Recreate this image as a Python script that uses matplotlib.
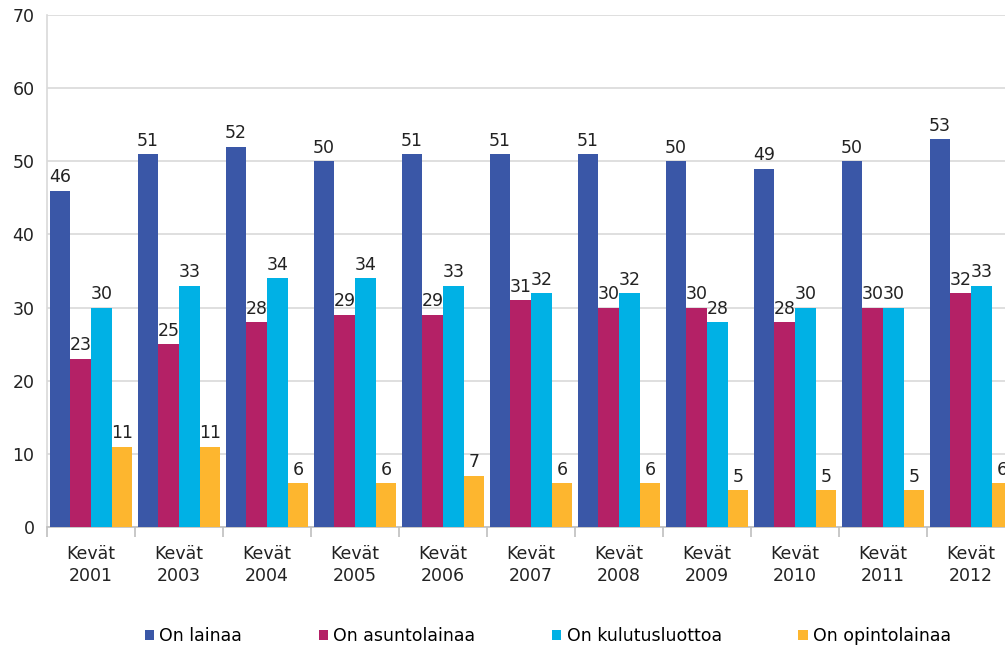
import matplotlib.pyplot as plt
import numpy as np

periods = ['Kevät\n2001', 'Kevät\n2003', 'Kevät\n2004', 'Kevät\n2005', 'Kevät\n2006',
           'Kevät\n2007', 'Kevät\n2008', 'Kevät\n2009', 'Kevät\n2010', 'Kevät\n2011',
           'Kevät\n2012']
on_lainaa = [46, 51, 52, 50, 51, 51, 51, 50, 49, 50, 53]
on_asuntolainaa = [23, 25, 28, 29, 29, 31, 30, 30, 28, 30, 32]
on_kulutusluottoa = [30, 33, 34, 34, 33, 32, 32, 28, 30, 30, 33]
on_opintolainaa = [11, 11, 6, 6, 7, 6, 6, 5, 5, 5, 6]

series = [
    ('On lainaa', on_lainaa, '#3A57A7'),
    ('On asuntolainaa', on_asuntolainaa, '#B42166'),
    ('On kulutusluottoa', on_kulutusluottoa, '#00B1E5'),
    ('On opintolainaa', on_opintolainaa, '#FDB62F'),
]

fig = plt.figure(figsize=(10.05, 6.52), dpi=100)
# plot area runs past the right edge of the image on purpose
ax = fig.add_axes([47 / 1005, 125 / 652, 968 / 1005, 512 / 652])

x = np.arange(len(periods)) + 0.5
w = 0.235
for k, (name, vals, col) in enumerate(series):
    pos = x + (k - 1.5) * w
    ax.bar(pos, vals, width=w, color=col, label=name, zorder=3)
    for px, v in zip(pos, vals):
        ax.text(px, v + 0.6, str(v), ha='center', va='bottom', fontsize=12.5,
                color='#222222', zorder=4)

ax.set_xlim(0, len(periods))
ax.set_ylim(0, 70)
ax.set_yticks(range(0, 71, 10))
ax.yaxis.grid(True, color='#D9D9D9', linewidth=1.2, zorder=0)
ax.tick_params(axis='y', length=0, labelsize=12.5, pad=9, labelcolor='#222222')

ax.set_xticks(x)
ax.set_xticklabels(periods, fontsize=12.5, color='#222222', linespacing=1.25)
ax.set_xticks(np.arange(len(periods) + 1), minor=True)
ax.tick_params(axis='x', which='major', length=0, pad=13)
ax.tick_params(axis='x', which='minor', length=7, color='#BFBFBF', width=1.2)

for s in ['top', 'right']:
    ax.spines[s].set_visible(False)
ax.spines['left'].set_color('#D9D9D9')
ax.spines['bottom'].set_color('#BFBFBF')
ax.spines['left'].set_linewidth(1.2)
ax.spines['bottom'].set_linewidth(1.2)

fig.legend(loc='center', bbox_to_anchor=(0.545, 0.024), ncol=4, frameon=False,
           fontsize=12.5, handlelength=0.55, handleheight=0.55, handletextpad=0.3,
           columnspacing=4.4)

fig.savefig('out.png', dpi=100)
